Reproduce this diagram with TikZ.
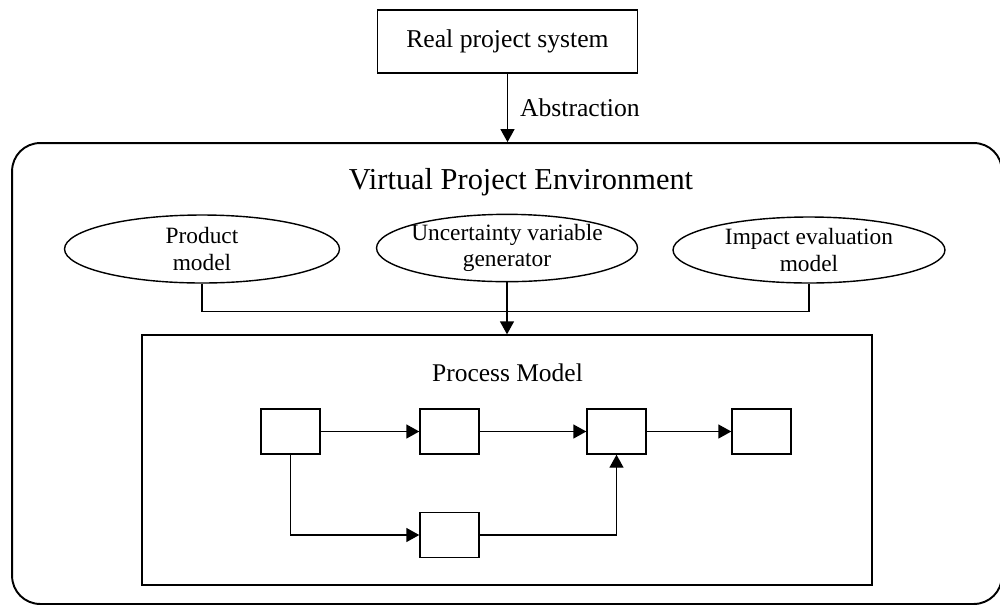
\documentclass[tikz,border=0pt]{standalone}
\usepackage{fontspec}
\setmainfont{Liberation Serif}
\usepackage{tikz}
\usetikzlibrary{shapes.geometric, arrows.meta, positioning, calc}

\begin{document}
\begin{tikzpicture}[x=0.02cm, y=-0.02cm, line width=0.8pt,
    flow/.style={-{Triangle[length=0.26cm, width=0.28cm]}},
    model/.style={draw, ellipse, inner sep=0pt, align=center, font=\fontsize{13.3}{15}\selectfont},
    task/.style={draw, minimum width=1.18cm, minimum height=0.9cm, inner sep=0pt}]
  \useasboundingbox (0,0) rectangle (1000,606);

  % Real system
  \node[draw, minimum width=5.2cm, minimum height=1.26cm, font=\fontsize{14.6}{17}\selectfont] (real) at (507.5,41.5) {Real project system};

  % Environment
  \node[draw, rounded corners=0.56cm, line width=1.1pt, minimum width=19.8cm, minimum height=9.22cm] (env) at (507,373.5) {};
  \node[anchor=base, font=\fontsize{17.3}{20}\selectfont] (envtitle) at (521,189) {Virtual Project Environment};

  % Abstraction arrow
  \draw[flow] (real.south) -- (real.south |- env.north) node[midway, right, xshift=0.12cm, font=\fontsize{14.6}{17}\selectfont] (abs) {Abstraction};

  % Models
  \node[model, minimum width=5.5cm, minimum height=1.36cm] (prod) at (202,249) {Product\\model};
  \node[model, inner xsep=-0.08cm, minimum width=5.22cm, minimum height=1.34cm] (unc) at (507,248) {Uncertainty variable\\generator};
  \node[model, minimum width=5.44cm, minimum height=1.32cm] (imp) at (809,250) {Impact evaluation\\model};

  % Process model
  \node[draw, minimum width=14.6cm, minimum height=5cm] (proc) at (507,460) {};
  \node[anchor=base, font=\fontsize{14.5}{17}\selectfont] (proctitle) at (507.5,381) {Process Model};

  \coordinate (bus) at ($(unc.south)+(0,29)$);
  \draw (prod.south) |- (bus) -| (imp.south);
  \draw[flow] (unc.south) -- (unc.south |- proc.north);

  % Activities
  \node[task] (a1) at (290.5,431.5) {};
  \node[task] (a2) at (449.5,431.5) {};
  \node[task] (a3) at (616.5,431.5) {};
  \node[task] (a4) at (761.5,431.5) {};
  \node[task] (a5) at (449.5,535) {};

  \draw[flow] (a1) -- (a2);
  \draw[flow] (a2) -- (a3);
  \draw[flow] (a3) -- (a4);
  \draw[flow] (a1) |- (a5);
  \draw[flow] (a5) -| (a3);
\end{tikzpicture}
\end{document}
